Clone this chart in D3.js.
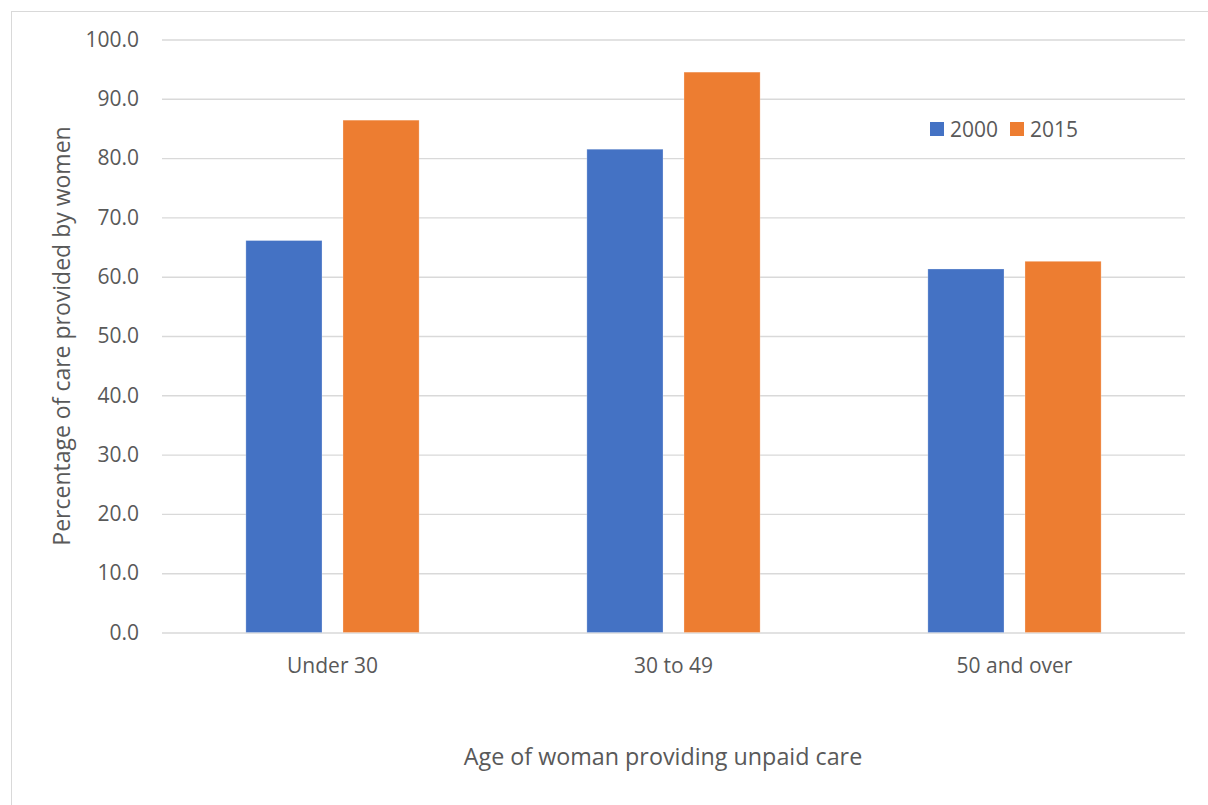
<!DOCTYPE html>
<html>
<head>
<meta charset="utf-8">
<script src="https://cdn.jsdelivr.net/npm/d3@7"></script>
<style>
  html, body { margin: 0; padding: 0; background: #fff; }
  svg { display: block; }
  text { font-family: "Open Sans", "Noto Sans", sans-serif; fill: #595959; }
</style>
</head>
<body>
<script>
// Share of unpaid care provided by women, by age group
const categories = ["Under 30", "30 to 49", "50 and over"];
const seriesNames = ["2000", "2015"];
const values2000 = [66.1, 81.5, 61.3];
const values2015 = [86.4, 94.5, 62.6];
const yTicks = [0, 10, 20, 30, 40, 50, 60, 70, 80, 90, 100];
const colors = ["#4472c4", "#ed7d31"];

const W = 1208, H = 805;
const plot = { left: 162, right: 1185, top: 39.5, bottom: 632.5 };

const svg = d3.select("body").append("svg").attr("width", W).attr("height", H);

// chart frame
svg.append("rect")
  .attr("x", 11.5).attr("y", 11.5)
  .attr("width", W).attr("height", H)
  .attr("fill", "none").attr("stroke", "#d9d9d9").attr("stroke-width", 1);

const y = d3.scaleLinear().domain([0, 100]).range([plot.bottom, plot.top]);
const x0 = d3.scaleBand().domain(categories).range([plot.left, plot.right]).padding(0);
const groupW = x0.bandwidth() * 0.508;
const x1 = d3.scaleBand().domain(seriesNames).range([0, groupW]).paddingInner(0.216).paddingOuter(0);

// gridlines and value labels
const yAxis = d3.axisLeft(y).tickValues(yTicks).tickSize(-(plot.right - plot.left)).tickPadding(23)
  .tickFormat(d3.format(".1f"));
const gy = svg.append("g").attr("transform", `translate(${plot.left},0)`).call(yAxis);
gy.select(".domain").remove();
gy.selectAll(".tick line").attr("stroke", "#d9d9d9").attr("stroke-width", 1.4);
gy.selectAll(".tick text").attr("font-size", 21).style("fill", "#595959")
  .attr("font-family", "'Open Sans', sans-serif");

// bars
const rows = categories.map((c, i) => ({ cat: c, vals: [values2000[i], values2015[i]] }));
const groups = svg.append("g").selectAll("g").data(rows).join("g")
  .attr("transform", d => `translate(${x0(d.cat) + (x0.bandwidth() - groupW) / 2},0)`);
groups.selectAll("rect")
  .data(d => d.vals.map((v, j) => ({ s: seriesNames[j], v, j })))
  .join("rect")
  .attr("x", d => x1(d.s))
  .attr("width", x1.bandwidth())
  .attr("y", d => y(d.v))
  .attr("height", d => y(0) - y(d.v))
  .attr("fill", d => colors[d.j])
  .attr("stroke", "#fff").attr("stroke-opacity", 0.35).attr("stroke-width", 0.75);

// category labels
const xAxis = d3.axisBottom(x0).tickSize(0).tickPadding(25.5);
const gx = svg.append("g").attr("transform", `translate(0,${plot.bottom})`).call(xAxis);
gx.select(".domain").remove();
gx.selectAll(".tick text").attr("font-size", 21).style("fill", "#595959")
  .attr("font-family", "'Open Sans', sans-serif");

// axis titles
svg.append("text")
  .attr("x", 663).attr("y", 765)
  .attr("text-anchor", "middle").attr("font-size", 23.3)
  .text("Age of woman providing unpaid care");
svg.append("text")
  .attr("transform", `translate(70,${(plot.top + plot.bottom) / 2}) rotate(-90)`)
  .attr("text-anchor", "middle").attr("font-size", 23)
  .text("Percentage of care provided by women");

// legend
const legend = svg.append("g").attr("transform", "translate(930,122)");
const li = legend.selectAll("g").data(seriesNames).join("g")
  .attr("transform", (d, i) => `translate(${i * 80},0)`);
li.append("rect").attr("width", 14).attr("height", 14).attr("fill", (d, i) => colors[i]);
li.append("text").attr("x", 20).attr("y", 14.5).attr("font-size", 21).text(d => d);
</script>
</body>
</html>
